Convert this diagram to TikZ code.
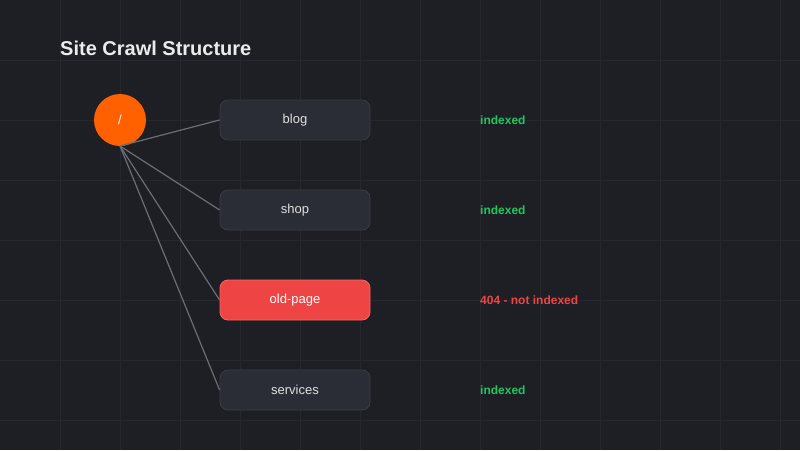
\documentclass[tikz,border=0pt]{standalone}
\usepackage{fontspec}
\setmainfont{Liberation Sans}
\begin{document}
\definecolor{bg}{HTML}{1E1F24}
\definecolor{gridc}{HTML}{26282E}
\definecolor{boxf}{HTML}{2A2D35}
\definecolor{boxd}{HTML}{3A3D46}
\definecolor{orng}{HTML}{FF6000}
\definecolor{redb}{HTML}{EF4444}
\definecolor{grn}{HTML}{22C55E}
\definecolor{edge}{HTML}{6B6E75}
\begin{tikzpicture}[x=1pt,y=-1pt,
  box/.style={draw=boxd,fill=boxf,rounded corners=8pt,minimum width=150pt,minimum height=40pt,text=white!88!black,font=\fontsize{13}{15}\selectfont,line width=0.8pt},
  bad/.style={box,fill=redb,draw=redb!80!white},
  stat/.style={anchor=west,inner sep=0pt,font=\bfseries\fontsize{12}{14}\selectfont},
  link/.style={draw=edge,line width=1.2pt}]
\fill[bg] (0,0) rectangle (800,450);
\useasboundingbox (0,0) rectangle (800,450);
\foreach \i in {60,120,...,780} \draw[gridc,line width=0.8pt] (\i,0) -- (\i,450);
\foreach \j in {60,120,...,420} \draw[gridc,line width=0.8pt] (0,\j) -- (800,\j);
\node[anchor=west,inner sep=0pt,text=white!92!black,font=\bfseries\fontsize{20}{24}\selectfont] (title) at (60,48) {Site Crawl Structure};
\node[circle,fill=orng,minimum size=52pt,inner sep=0pt,text=white,font=\fontsize{13}{15}\selectfont] (root) at (120,120) {/};
\coordinate (rb) at (120,146);
\node[box] (blog) at (295,120) {blog};
\node[box] (shop) at (295,210) {shop};
\node[bad,text=white] (old) at (295,300) {old-page};
\node[box] (serv) at (295,390) {services};
\foreach \n in {blog,shop,old,serv} \draw[link] (rb) -- (\n.west);
\node[stat,text=grn] (s1) at (480,120) {indexed};
\node[stat,text=grn] (s2) at (480,210) {indexed};
\node[stat,text=redb] (s3) at (480,300) {404 - not indexed};
\node[stat,text=grn] (s4) at (480,390) {indexed};
\end{tikzpicture}
\end{document}
